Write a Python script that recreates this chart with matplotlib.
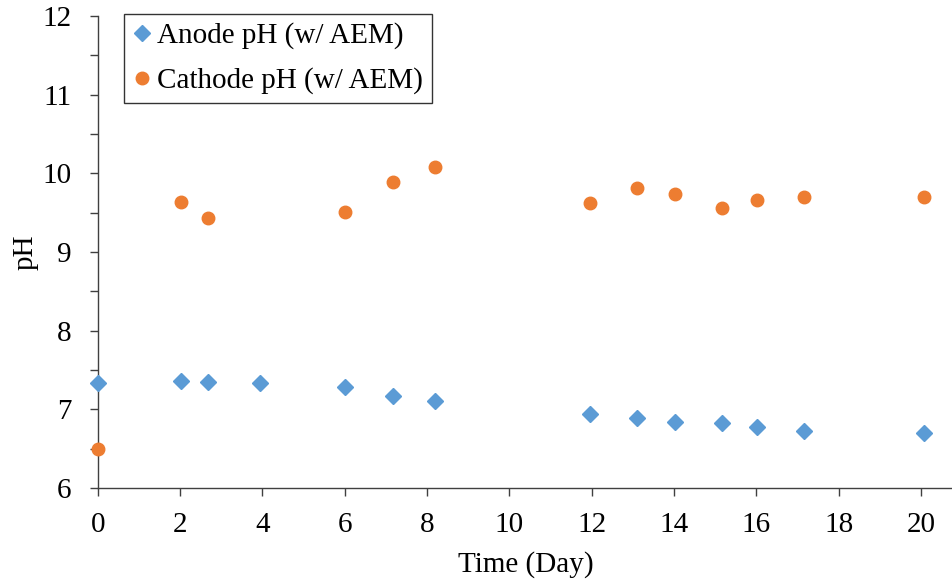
import matplotlib.pyplot as plt
from matplotlib.ticker import MultipleLocator

# -----------------------
# DATA
# -----------------------
anode_day = [0, 2.02, 2.67, 3.94, 6.02, 7.18, 8.2, 11.96, 13.1, 14.02, 15.17, 16.01, 17.16, 20.07]
anode_ph = [7.34, 7.36, 7.35, 7.33, 7.28, 7.17, 7.11, 6.94, 6.89, 6.84, 6.82, 6.78, 6.72, 6.70]

cathode_day = [0, 2.02, 2.67, 6.01, 7.17, 8.2, 11.96, 13.1, 14.02, 15.17, 16.01, 17.16, 20.07]
cathode_ph = [6.50, 9.635, 9.43, 9.51, 9.89, 10.08, 9.62, 9.81, 9.74, 9.56, 9.66, 9.70, 9.70]

# -----------------------
# PLOT
# -----------------------
plt.rcParams['font.family'] = ['Liberation Serif', 'DejaVu Serif']
fs = 21

fig = plt.figure(figsize=(9.53, 5.83), dpi=100)
ax = fig.add_axes([0.1025, 0.163, 0.8975, 0.8096])

ax.plot(anode_day, anode_ph, linestyle='none', marker='D', markersize=8,
        color='#5B9BD5', label='Anode pH (w/ AEM)', clip_on=False, zorder=3)
ax.plot(cathode_day, cathode_ph, linestyle='none', marker='o', markersize=9,
        color='#ED7D31', label='Cathode pH (w/ AEM)', clip_on=False, zorder=3)

ax.set_xlim(0, 20.78)
ax.set_ylim(6, 12)
ax.xaxis.set_major_locator(MultipleLocator(2))
ax.yaxis.set_major_locator(MultipleLocator(1))
ax.yaxis.set_minor_locator(MultipleLocator(0.5))

for side in ['top', 'right']:
    ax.spines[side].set_visible(False)
for side in ['left', 'bottom']:
    ax.spines[side].set_color('#404040')
    ax.spines[side].set_linewidth(1.0)

ax.tick_params(axis='both', which='major', direction='out', length=6,
               width=1.0, color='#404040', labelsize=fs, colors='black')
ax.tick_params(axis='y', which='minor', direction='out', length=6,
               width=1.0, color='#404040')
ax.tick_params(axis='x', pad=11)
ax.tick_params(axis='y', pad=13)

ax.set_xlabel('Time (Day)', fontsize=fs, labelpad=10)
ax.set_ylabel('pH', fontsize=fs, labelpad=2.5)

leg = ax.legend(loc='upper left', bbox_to_anchor=(0.031, 1.005), fontsize=fs,
                frameon=True, fancybox=False, edgecolor='black',
                handletextpad=0.19, handlelength=0.65, borderpad=0.3,
                labelspacing=0.62, borderaxespad=0)
leg.get_frame().set_linewidth(1.0)

fig.savefig('out.png', dpi=100)
